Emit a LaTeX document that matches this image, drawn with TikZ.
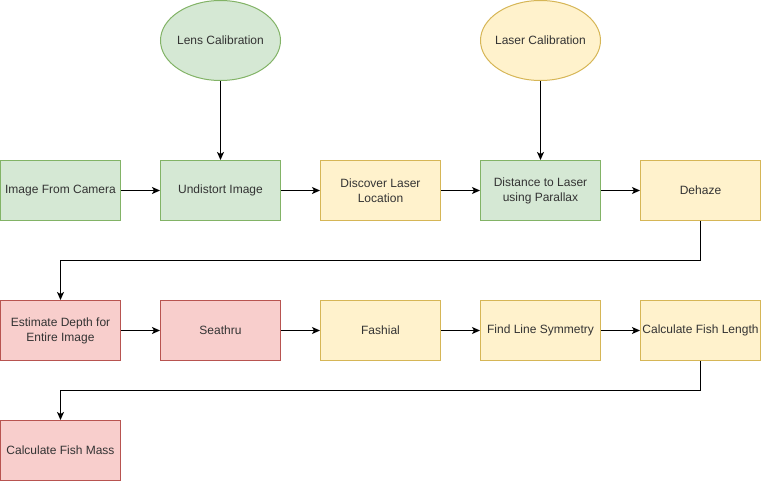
\documentclass[tikz,border=0pt]{standalone}
\usepackage{fontspec}
\setmainfont{Liberation Sans}
\usetikzlibrary{arrows.meta,shapes.geometric}

\definecolor{gfill}{HTML}{D5E8D4}
\definecolor{gline}{HTML}{82B366}
\definecolor{yfill}{HTML}{FFF2CC}
\definecolor{yline}{HTML}{D6B656}
\definecolor{rfill}{HTML}{F8CECC}
\definecolor{rline}{HTML}{B85450}
\definecolor{txt}{HTML}{333333}

\tikzset{
  box/.style={rectangle, minimum width=120pt, minimum height=60pt,
    align=center, line width=1pt, text=txt, inner sep=2pt,
    font=\fontsize{12}{15}\selectfont},
  greenbox/.style={box, draw=gline, fill=gfill},
  yellowbox/.style={box, draw=yline, fill=yfill},
  redbox/.style={box, draw=rline, fill=rfill},
  calib/.style={ellipse, minimum width=120pt, minimum height=80pt,
    inner sep=0pt, line width=1pt, text=txt,
    font=\fontsize{12}{15}\selectfont},
  flow/.style={line width=1pt, -{Stealth[length=8pt,width=7pt,inset=2pt]}}
}

\begin{document}
\begin{tikzpicture}[x=1pt,y=-1pt]
\useasboundingbox (0,0) rectangle (761,481);

% calibration steps
\node[calib, draw=gline, fill=gfill] (lens) at (220.5,40.5) {\makebox[0pt]{Lens Calibration}};
\node[calib, draw=yline, fill=yfill] (lasercal) at (540.5,40.5) {\makebox[0pt]{Laser Calibration}};

% first row
\node[greenbox] (camera) at (60.5,190.5) {Image From Camera};
\node[greenbox] (undistort) at (220.5,190.5) {Undistort Image};
\node[yellowbox] (discover) at (380.5,190.5) {Discover Laser\\Location};
\node[greenbox] (parallax) at (540.5,190.5) {Distance to Laser\\using Parallax};
\node[yellowbox] (dehaze) at (700.5,190.5) {Dehaze};

% second row
\node[redbox] (depth) at (60.5,330.5) {Estimate Depth for\\Entire Image};
\node[redbox] (seathru) at (220.5,330.5) {Seathru};
\node[yellowbox] (fashial) at (380.5,330.5) {Fashial};
\node[yellowbox] (symmetry) at (540.5,330.5) {Find Line Symmetry};
\node[yellowbox] (length) at (700.5,330.5) {Calculate Fish Length};

% third row
\node[redbox] (mass) at (60.5,450.5) {Calculate Fish Mass};

\coordinate (bendA) at (700.5,260.5);
\coordinate (bendB) at (60.5,260.5);
\coordinate (bendC) at (700.5,390.5);
\coordinate (bendD) at (60.5,390.5);

\draw[flow] (lens) -- (undistort);
\draw[flow] (lasercal) -- (parallax);
\draw[flow] (camera) -- (undistort);
\draw[flow] (undistort) -- (discover);
\draw[flow] (discover) -- (parallax);
\draw[flow] (parallax) -- (dehaze);
\draw[flow] (dehaze) -- (bendA) -- (bendB) -- (depth);
\draw[flow] (depth) -- (seathru);
\draw[flow] (seathru) -- (fashial);
\draw[flow] (fashial) -- (symmetry);
\draw[flow] (symmetry) -- (length);
\draw[flow] (length) -- (bendC) -- (bendD) -- (mass);
\end{tikzpicture}
\end{document}
